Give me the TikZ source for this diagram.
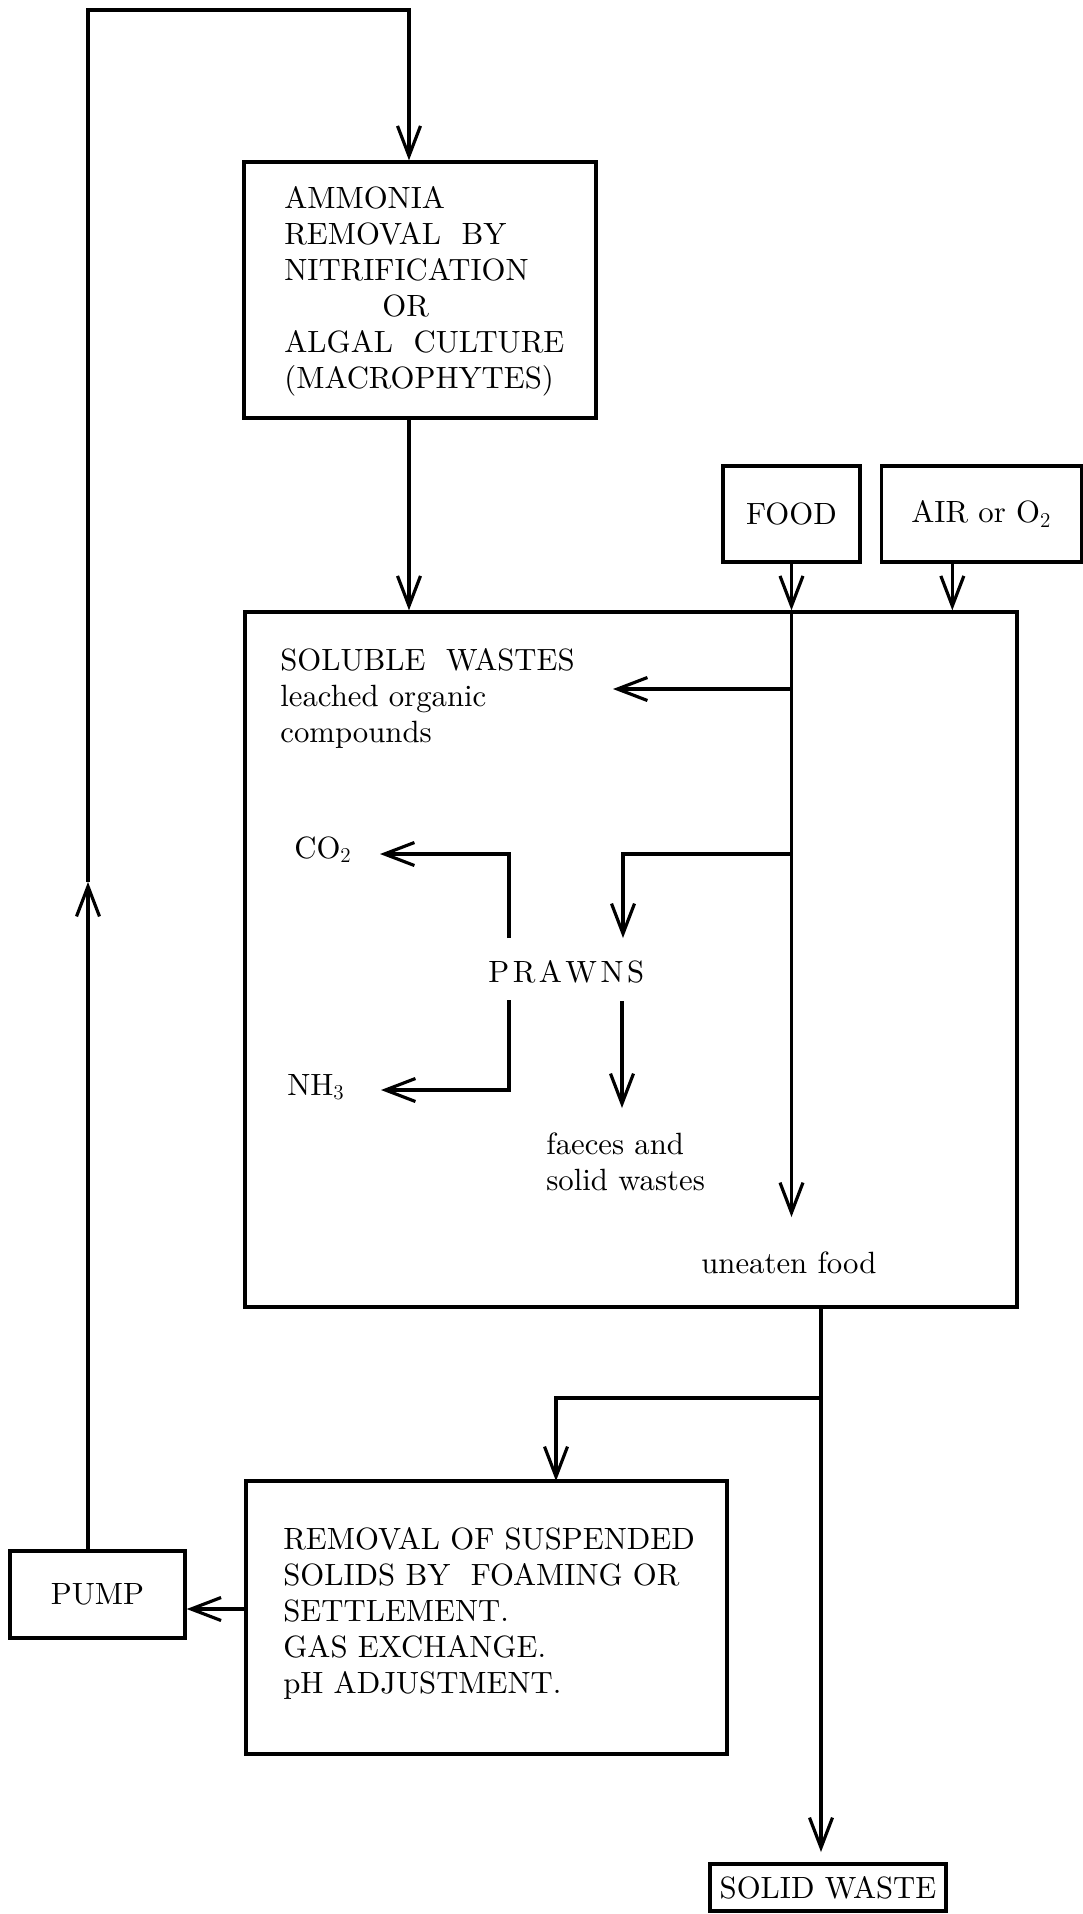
\documentclass[tikz,border=0pt]{standalone}
\usepackage{fontspec}
\setmainfont{lmroman10-regular}[Extension=.otf]
\usepackage{tikz}
\usetikzlibrary{arrows.meta, positioning, calc}

\begin{document}
\begin{tikzpicture}[x=0.2mm, y=-0.2mm,
    every node/.style={font=\fontsize{17.5}{20.5}\selectfont},
    box/.style={rectangle, draw, line width=1.9pt, inner sep=0pt},
    lbl/.style={inner sep=0pt, align=left},
    flow/.style={line width=1.8pt, -{Straight Barb[length=6mm, width=4.6mm]}}
]
\useasboundingbox (0,0) rectangle (1083,1914);

% Treatment and inputs
\node[box, minimum width=70.4mm, minimum height=51.2mm] (ammbox) at (420,290) {};
\node[lbl, anchor=north west] (ammtxt) at (284,186) {AMMONIA\\REMOVAL\ \ BY\\NITRIFICATION\\\hspace*{19.6mm}OR\\ALGAL\ \ CULTURE\\(MACROPHYTES)};
\node[box, minimum width=27.4mm, minimum height=19.2mm] (foodbox) at (791.5,514) {FOOD};
\node[box, minimum width=40mm, minimum height=19.2mm, right=3.6mm of foodbox] (airbox) {AIR or O$_2$};

% Prawn tank
\node[box, minimum width=154.4mm, minimum height=139mm] (mainbox) at (631,959.5) {};
\node[lbl, anchor=north west] (soluble) at (280,648) {SOLUBLE\ \ WASTES\\leached organic\\compounds};
\node[lbl, anchor=base west] (co2) at (294,858) {CO$_2$};
\node[lbl, anchor=base west] (nh3) at (287,1095) {NH$_3$};
\node[lbl, anchor=base west] (prawns) at (488,982) {P\kern.7mm R\kern.7mm A\kern.7mm W\kern.7mm N\kern.7mm S};
\node[lbl, anchor=north west] (faeces) at (546,1132) {faeces and\\solid wastes};
\node[lbl, anchor=base west] (uneaten) at (701,1273) {uneaten food};

% Solids removal and pump
\node[box, minimum width=96.2mm, minimum height=54.6mm] (remobox) at (486.5,1617.5) {};
\node[lbl, anchor=north west] (remotxt) at (283,1527) {REMOVAL OF SUSPENDED\\SOLIDS BY\ \ FOAMING OR\\SETTLEMENT.\\GAS EXCHANGE.\\pH ADJUSTMENT.};
\node[box, minimum width=35mm, minimum height=17.4mm] (pumpbox) at (97.5,1594.5) {PUMP};
\node[box, minimum width=47.2mm, minimum height=9.4mm] (solidbox) at (828,1887.5) {SOLID WASTE};

\coordinate (loopR) at (409,10);
\coordinate (uptip) at (88,882);
\coordinate (solsrc) at (791.5,689);
\coordinate (soltip) at (613,689);
\coordinate (brprawn) at (791.5,854);
\coordinate (prawnin) at (623,938);
\coordinate (gasup) at (509,938);
\coordinate (co2tip) at (380,854);
\coordinate (gasdn) at (509,1000);
\coordinate (nh3tip) at (381,1090);
\coordinate (faetop) at (622,1001);
\coordinate (faetip) at (622,1108);
\coordinate (foodtip) at (791.5,1217);
\coordinate (outtip) at (821,1852);
\coordinate (brsolid) at (821,1398);
\coordinate (remoin) at (556,1481);

\draw[flow] (pumpbox.north -| uptip) -- (uptip);
\draw[flow] (uptip) |- (loopR) -- (loopR |- ammbox.north);
\draw[flow] (ammbox.south -| loopR) -- (loopR |- mainbox.north);
\draw[flow] (foodbox.south) -- (foodbox.south |- mainbox.north);
\draw[flow] ([xshift=-5.8mm]airbox.south) -- ([xshift=-5.8mm]airbox.south |- mainbox.north);

\draw[flow] (foodbox.south |- mainbox.north) -- (foodtip);
\draw[flow] (solsrc) -- (soltip);
\draw[flow] (brprawn) -| (prawnin);
\draw[flow] (gasup) |- (co2tip);
\draw[flow] (gasdn) |- (nh3tip);
\draw[flow] (faetop) -- (faetip);

\draw[flow] (mainbox.south -| outtip) -- (outtip);
\draw[flow] (brsolid) -| (remoin);
\draw[flow] ([yshift=1.7mm]remobox.west) -- ([yshift=1.7mm]remobox.west -| pumpbox.east);

\end{tikzpicture}
\end{document}
